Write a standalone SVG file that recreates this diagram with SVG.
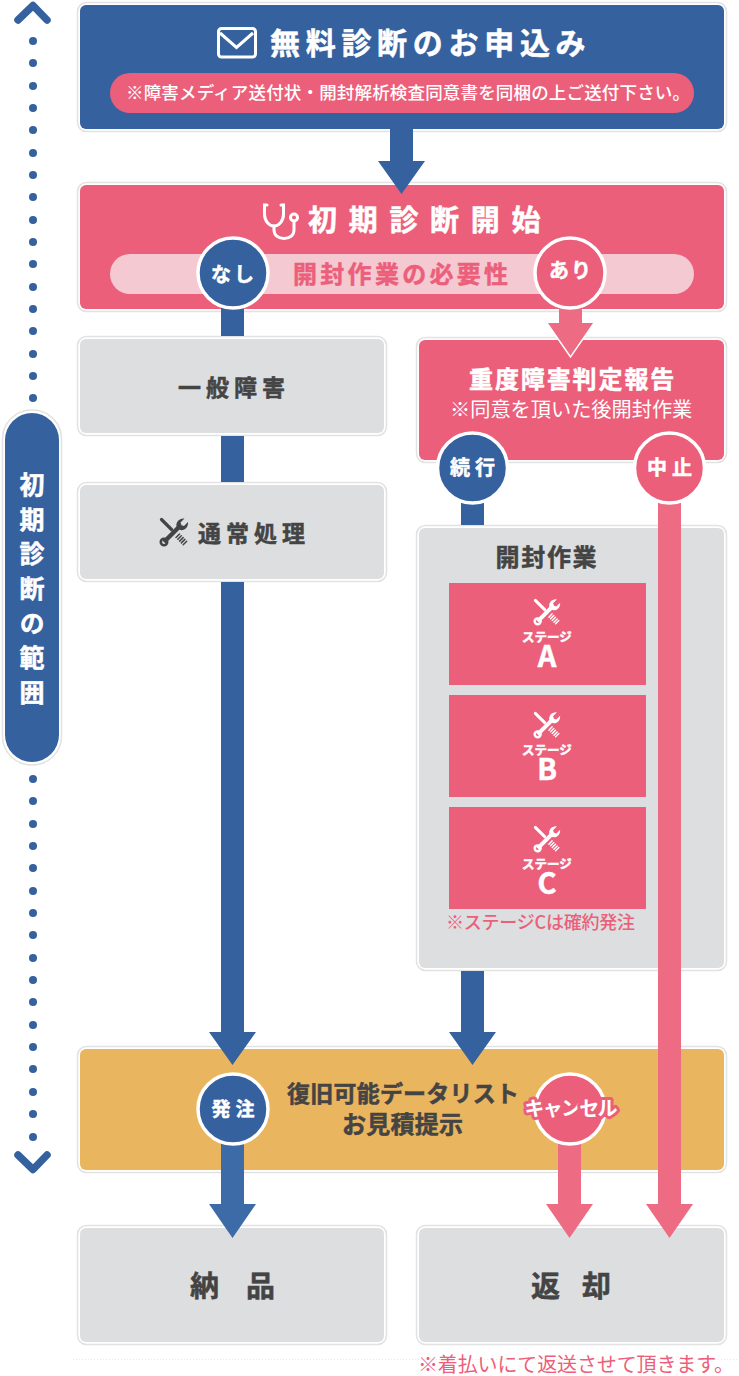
<svg xmlns="http://www.w3.org/2000/svg" width="739" height="1376" viewBox="0 0 739 1376">
<style>
text{font-family:"Noto Sans CJK JP","Noto Sans",sans-serif;font-weight:700}
.w{fill:#fff}.d{fill:#444}.p{fill:#ec5f7a}
.h{stroke-width:.5;paint-order:stroke}
.w.h{stroke:#fff}.d.h{stroke:#444}.p.h{stroke:#ec5f7a}
.o{fill:#fff;stroke:#e2e2e2;stroke-width:1.5}
.bl{fill:#35619f}.pk{fill:#ec5f7a}.gr{fill:#dddee0}.or{fill:#e9b55e}
.ab{fill:#35619f}.ab2{fill:#3d6ba8}.ap{fill:#ee6c83}
.c{stroke:#fff;stroke-width:3.5}
.m{text-anchor:middle}
.dot{fill:#35619f}
.ch{fill:none;stroke:#35619f;stroke-width:7.5;stroke-linecap:round;stroke-linejoin:round}
</style>
<defs>
<symbol id="tool" viewBox="0 0 30 30">
<path d="M2.500 2.500L12.500 12.500" fill="none" stroke="currentColor" stroke-width="3.200" stroke-linecap="round"/>
<path d="M17 20.500L20.500 17M18.800 22.300L22.300 18.800M20.600 24.100L24.100 20.600M22.400 25.900L25.900 22.400M24.200 27.700L27.700 24.200" fill="none" stroke="currentColor" stroke-width="1.500" stroke-linecap="round"/>
<path d="M5 25L20 10" fill="none" stroke="currentColor" stroke-width="4.400"/>
<circle cx="5" cy="25" r="3.200" fill="none" stroke="currentColor" stroke-width="2.600"/>
<path d="M17.500 9.500C16.600 5 20.500 .8 25.500 1.500L21.500 5.500L22.500 8.200L25 9L29 5C29.800 10 25 14.500 20.800 12.800Z" fill="currentColor"/>
</symbol>
</defs>
<path d="M73 1359.500H739" stroke="#e8e8e8" stroke-width="1" stroke-dasharray="1 2" fill="none"/>
<g id="scope">
<path class="ch" d="M18 20L33 5.500L47 20"/>
<g id="dots-top">
<circle class="dot" cx="33" cy="41" r="4"/><circle class="dot" cx="33" cy="63" r="4"/><circle class="dot" cx="33" cy="86" r="4"/><circle class="dot" cx="33" cy="108" r="4"/><circle class="dot" cx="33" cy="130" r="4"/><circle class="dot" cx="33" cy="153" r="4"/><circle class="dot" cx="33" cy="175" r="4"/><circle class="dot" cx="33" cy="197" r="4"/><circle class="dot" cx="33" cy="220" r="4"/><circle class="dot" cx="33" cy="242" r="4"/><circle class="dot" cx="33" cy="264" r="4"/><circle class="dot" cx="33" cy="287" r="4"/><circle class="dot" cx="33" cy="309" r="4"/><circle class="dot" cx="33" cy="331" r="4"/><circle class="dot" cx="33" cy="354" r="4"/><circle class="dot" cx="33" cy="376" r="4"/><circle class="dot" cx="33" cy="398" r="4"/>
</g>
<g id="dots-bottom">
<circle class="dot" cx="33" cy="779" r="4"/><circle class="dot" cx="33" cy="801" r="4"/><circle class="dot" cx="33" cy="824" r="4"/><circle class="dot" cx="33" cy="846" r="4"/><circle class="dot" cx="33" cy="868" r="4"/><circle class="dot" cx="33" cy="891" r="4"/><circle class="dot" cx="33" cy="913" r="4"/><circle class="dot" cx="33" cy="935" r="4"/><circle class="dot" cx="33" cy="958" r="4"/><circle class="dot" cx="33" cy="980" r="4"/><circle class="dot" cx="33" cy="1002" r="4"/><circle class="dot" cx="33" cy="1025" r="4"/><circle class="dot" cx="33" cy="1047" r="4"/><circle class="dot" cx="33" cy="1069" r="4"/><circle class="dot" cx="33" cy="1092" r="4"/><circle class="dot" cx="33" cy="1114" r="4"/><circle class="dot" cx="33" cy="1137" r="4"/>
</g>
<path class="ch" d="M18 1155L33 1169.500L47 1155"/>
<rect class="o" x="2.500" y="410" width="59" height="355" rx="29"/>
<rect class="bl" x="5" y="413" width="54" height="349" rx="27"/>
<text class="w h" x="32" y="472" font-size="25" letter-spacing="9.700" style="writing-mode:vertical-rl">初期診断の範囲</text>
</g>
<g id="node-apply">
<rect class="o" x="77.500" y="2.500" width="649" height="129" rx="9"/>
<rect class="bl" x="80" y="5" width="644" height="124" rx="6"/>
<rect x="218.500" y="28.500" width="37" height="28.500" rx="3" fill="none" stroke="#fff" stroke-width="3"/>
<path d="M220 33L236.500 47.500L253 33" fill="none" stroke="#fff" stroke-width="3"/>
<text class="w h" x="270" y="54" font-size="30" letter-spacing="5.700">無料診断のお申込み</text>
<rect class="pk" x="110" y="73" width="584" height="40" rx="20"/>
<text class="w" x="126" y="99" font-size="17.500" textLength="564" lengthAdjust="spacing" style="font-weight:500">※障害メディア送付状・開封解析検査同意書を同梱の上ご送付下さい。</text>
</g>
<g id="node-start">
<rect class="o" x="77.500" y="182.500" width="649" height="129" rx="9"/>
<rect class="pk" x="80" y="185" width="644" height="124" rx="6"/>
<g fill="none" stroke="#fff" stroke-width="3" stroke-linecap="round">
<path d="M267 205H264.500V214C264.500 221 269 226 274 226C279 226 283.500 221 283.500 214V205H281"/>
<path d="M274 226V230C274 235 278 238.500 284 238.500C290 238.500 294 235 294 230V221"/>
<circle cx="294" cy="217.500" r="3.500"/>
</g>
<text class="w h" x="308" y="231" font-size="29" letter-spacing="11.700">初期診断開始</text>
<rect x="110" y="254" width="584" height="40" rx="20" fill="#f4c9d2"/>
<text class="p h" x="293" y="283" font-size="24" letter-spacing="3.300">開封作業の必要性</text>
</g>
<g id="node-general">
<rect class="o" x="77.500" y="336.500" width="309" height="99" rx="9"/>
<rect class="gr" x="80" y="339" width="304" height="94" rx="6"/>
<text class="d h" x="178" y="396" font-size="23" letter-spacing="5">一般障害</text>
</g>
<g id="node-normal">
<rect class="o" x="77.500" y="482.500" width="309" height="99" rx="9"/>
<rect class="gr" x="80" y="485" width="304" height="94" rx="6"/>
<use href="#tool" x="159" y="517" width="30" height="30" color="#444"/>
<text class="d h" x="198" y="542" font-size="23" letter-spacing="5">通常処理</text>
</g>
<g id="node-severe">
<rect class="o" x="416.500" y="337.500" width="310" height="125" rx="9"/>
<rect class="pk" x="419" y="340" width="305" height="120" rx="6"/>
<text class="w h" x="469" y="388" font-size="24" letter-spacing="1.900">重度障害判定報告</text>
<text class="w" x="450" y="417" font-size="20.200" style="font-weight:400">※同意を頂いた後開封作業</text>
</g>
<g id="node-open">
<rect class="o" x="416.500" y="525.500" width="310" height="445" rx="9"/>
<rect class="gr" x="419" y="528" width="305" height="440" rx="6"/>
<text class="d h" x="495.500" y="566" font-size="24" letter-spacing="1.700">開封作業</text>
</g>
<g id="node-stage-a">
<rect class="pk" x="449" y="583" width="197" height="102"/>
<use href="#tool" x="533" y="598" width="28" height="28" color="#fff"/>
<text class="w m h" x="547" y="642" font-size="12.500">ステージ</text>
<text class="w m h" x="547" y="667" font-size="29">A</text>
</g>
<g id="node-stage-b">
<rect class="pk" x="449" y="695" width="197" height="102"/>
<use href="#tool" x="533" y="711" width="28" height="28" color="#fff"/>
<text class="w m h" x="547" y="755" font-size="12.500">ステージ</text>
<text class="w m h" x="547" y="780" font-size="29">B</text>
</g>
<g id="node-stage-c">
<rect class="pk" x="449" y="807" width="197" height="102"/>
<use href="#tool" x="533" y="825" width="28" height="28" color="#fff"/>
<text class="w m h" x="547" y="869" font-size="12.500">ステージ</text>
<text class="w m h" x="547" y="894" font-size="29">C</text>
<text class="p" x="446" y="929" font-size="18" textLength="189" style="font-weight:500">※ステージCは確約発注</text>
</g>
<g id="node-quote">
<rect class="o" x="77.500" y="1046.500" width="649" height="126" rx="9"/>
<rect class="or" x="80" y="1049" width="644" height="121" rx="6"/>
<text class="d h" x="287" y="1102" font-size="23" textLength="232">復旧可能データリスト</text>
<text class="d h" x="342" y="1133" font-size="24" textLength="121">お見積提示</text>
</g>
<g id="node-deliver">
<rect class="o" x="77.500" y="1225.500" width="309" height="119" rx="9"/>
<rect class="gr" x="80" y="1228" width="304" height="114" rx="6"/>
<text class="d h" x="190" y="1297" font-size="29" letter-spacing="27">納品</text>
</g>
<g id="node-return">
<rect class="o" x="416.500" y="1225.500" width="310" height="119" rx="9"/>
<rect class="gr" x="419" y="1228" width="305" height="114" rx="6"/>
<text class="d h" x="531" y="1297" font-size="29" letter-spacing="22">返却</text>
</g>
<text id="note-return" class="p" x="418" y="1371.500" font-size="20" textLength="316" style="font-weight:400">※着払いにて返送させて頂きます。</text>
<g id="connectors">
<polygon class="ab" points="390,129 413,129 413,161 425,161 401.500,194 378,161 390,161"/>
<rect class="ab" x="221" y="305" width="23" height="31"/>
<rect class="ab" x="221" y="436" width="23" height="46"/>
<polygon class="ab" points="221,582 244,582 244,1032 256,1032 232.500,1065 209,1032 221,1032"/>
<polygon class="ap" points="559,305 582,305 582,323 594,323 570.500,357 547,323 559,323"/>
<path d="M547 323L570.500 357L594 323" fill="none" stroke="#fff" stroke-width="1.500"/>
<rect class="ab" x="461" y="500" width="23" height="25"/>
<polygon class="ab" points="461,971 484,971 484,1032 496,1032 472.500,1065 449,1032 461,1032"/>
<polygon class="ap" points="658,500 681,500 681,1204 693,1204 669.500,1238 646,1204 658,1204"/>
<polygon class="ab2" points="221,1140 244,1140 244,1204 256,1204 232.500,1238 209,1204 221,1204"/>
<polygon class="ap" points="558,1140 581,1140 581,1204 593,1204 569.500,1238 546,1204 558,1204"/>
</g>
<g id="badge-nashi">
<circle class="bl c" cx="233" cy="273" r="35"/>
<text class="w m h" x="234" y="282" font-size="20" letter-spacing="3">なし</text>
</g>
<g id="badge-ari">
<circle class="pk c" cx="570" cy="273" r="35"/>
<text class="w m h" x="571" y="278" font-size="20" letter-spacing="2">あり</text>
</g>
<g id="badge-zoku">
<circle class="bl c" cx="472.500" cy="468" r="35"/>
<text class="w m h" x="475" y="475" font-size="20" letter-spacing="5">続行</text>
</g>
<g id="badge-chushi">
<circle class="pk c" cx="669.500" cy="468" r="35"/>
<text class="w m h" x="672" y="475" font-size="20" letter-spacing="5">中止</text>
</g>
<g id="badge-order">
<circle class="bl c" cx="233" cy="1109" r="35"/>
<text class="w m h" x="235.500" y="1116" font-size="19" letter-spacing="5">発注</text>
</g>
<g id="badge-cancel">
<circle class="pk c" cx="570" cy="1109" r="35"/>
<text class="w m" x="571" y="1116" font-size="20" textLength="93" stroke="#ec5f7a" stroke-width="6" stroke-linejoin="round" style="paint-order:stroke">キャンセル</text>
</g>
</svg>
